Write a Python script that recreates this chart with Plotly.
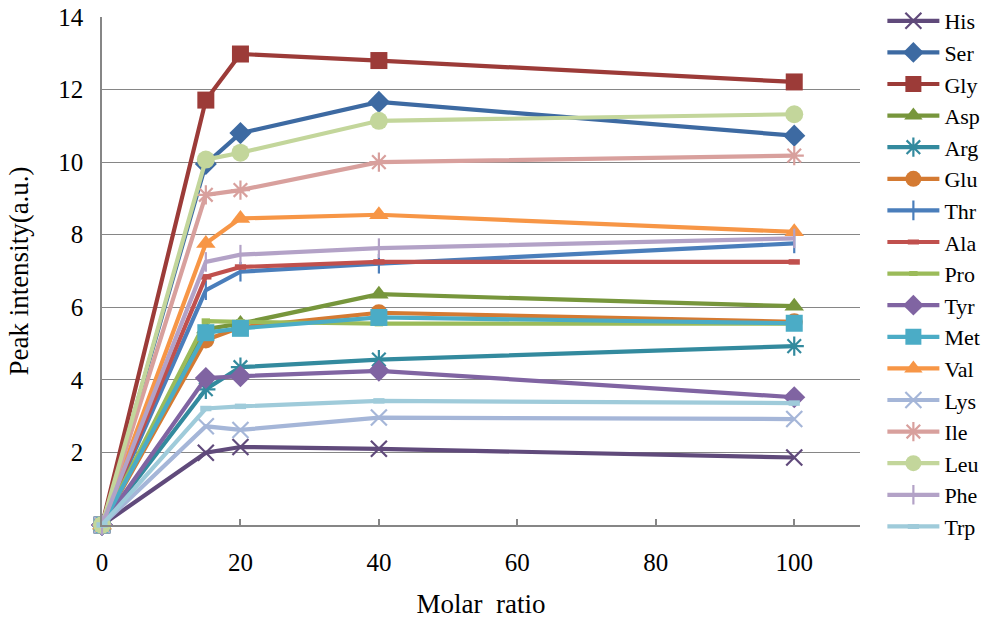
import plotly.graph_objects as go

molar_ratio = [0, 15, 20, 40, 100]

names = ["His", "Ser", "Gly", "Asp", "Arg", "Glu", "Thr", "Ala", "Pro",
         "Tyr", "Met", "Val", "Lys", "Ile", "Leu", "Phe", "Trp"]

his = [0, 1.99, 2.15, 2.10, 1.86]
ser = [0, 9.95, 10.80, 11.66, 10.73]
gly = [0, 11.71, 12.98, 12.80, 12.21]
asp = [0, 5.40, 5.55, 6.36, 6.03]
arg = [0, 3.74, 4.35, 4.56, 4.93]
glu = [0, 5.10, 5.45, 5.85, 5.60]
thr = [0, 6.47, 6.98, 7.20, 7.76]
ala = [0, 6.84, 7.11, 7.25, 7.25]
pro = [0, 5.62, 5.60, 5.55, 5.55]
tyr = [0, 4.05, 4.10, 4.25, 3.52]
met = [0, 5.30, 5.42, 5.72, 5.56]
val = [0, 7.76, 8.45, 8.55, 8.08]
lys = [0, 2.72, 2.62, 2.96, 2.92]
ile = [0, 9.10, 9.23, 10.00, 10.18]
leu = [0, 10.07, 10.26, 11.14, 11.32]
phe = [0, 7.25, 7.45, 7.63, 7.90]
trp = [0, 3.21, 3.27, 3.42, 3.36]

series = [his, ser, gly, asp, arg, glu, thr, ala, pro,
          tyr, met, val, lys, ile, leu, phe, trp]

colors = ["#604A7B", "#3D6AA2", "#9C3B38", "#77963C", "#338A9E", "#D47A32",
          "#4A7EBB", "#C0504D", "#9BBB59", "#8064A2", "#4BACC6", "#F79646",
          "#A5B6D8", "#D8A09D", "#C3D69B", "#B3A2C7", "#9FCBDA"]

symbols = ["x-thin-open", "diamond", "square", "triangle-up", "asterisk-open",
           "circle", "line-ns-open", "line-ew-open", "line-ew-open",
           "diamond", "square", "triangle-up", "x-thin-open", "asterisk-open",
           "circle", "line-ns-open", "line-ew-open"]

sizes = [16, 17, 17, 17, 16, 17, 14, 8, 6, 17, 17, 17, 16, 16, 18, 14, 8]

y_ticks = [2, 4, 6, 8, 10, 12, 14]
x_ticks = [0, 20, 40, 60, 80, 100]

fig = go.Figure()
for name, vals, col, sym, sz in zip(names, series, colors, symbols, sizes):
    open_sym = sym.endswith("-open")
    lw = 2.2 if open_sym else 0
    if sym == "line-ew-open":
        lw = 5.5
    fig.add_trace(go.Scatter(
        x=molar_ratio, y=vals, name=name, mode="lines+markers",
        line=dict(color=col, width=4.2),
        marker=dict(symbol=sym, size=sz, color=col,
                    line=dict(color=col, width=lw)),
        cliponaxis=False,
    ))

font_family = "Liberation Serif, Times New Roman, serif"

fig.update_layout(
    width=987, height=619,
    margin=dict(l=102, r=127, t=17, b=94, autoexpand=False),
    paper_bgcolor="white", plot_bgcolor="white",
    font=dict(family=font_family, size=23, color="black"),
    showlegend=True,
    legend=dict(
        x=0.894, xref="container", xanchor="left",
        y=1.0, yref="container", yanchor="top",
        maxheight=619,
        font=dict(family=font_family, size=22, color="black"),
        itemwidth=52,
        bgcolor="rgba(0,0,0,0)",
    ),
    xaxis=dict(
        range=[0, 109.5], tickvals=x_ticks,
        showgrid=False, zeroline=False,
        showline=True, linecolor="#868686", linewidth=1.5,
        ticks="inside", ticklen=6, tickcolor="#868686", tickwidth=1.5,
        tickfont=dict(size=25), ticklabelstandoff=14,
        title=dict(text="Molar  ratio", font=dict(size=27), standoff=20),
    ),
    yaxis=dict(
        range=[0, 14], tickvals=y_ticks,
        showgrid=True, gridcolor="#868686", gridwidth=1,
        zeroline=False,
        showline=True, linecolor="#868686", linewidth=1.5,
        ticks="", tickfont=dict(size=25), ticklabelstandoff=12,
        title=dict(text="Peak intensity(a.u.)", font=dict(size=27), standoff=22),
    ),
)

fig.write_html("out.html")
